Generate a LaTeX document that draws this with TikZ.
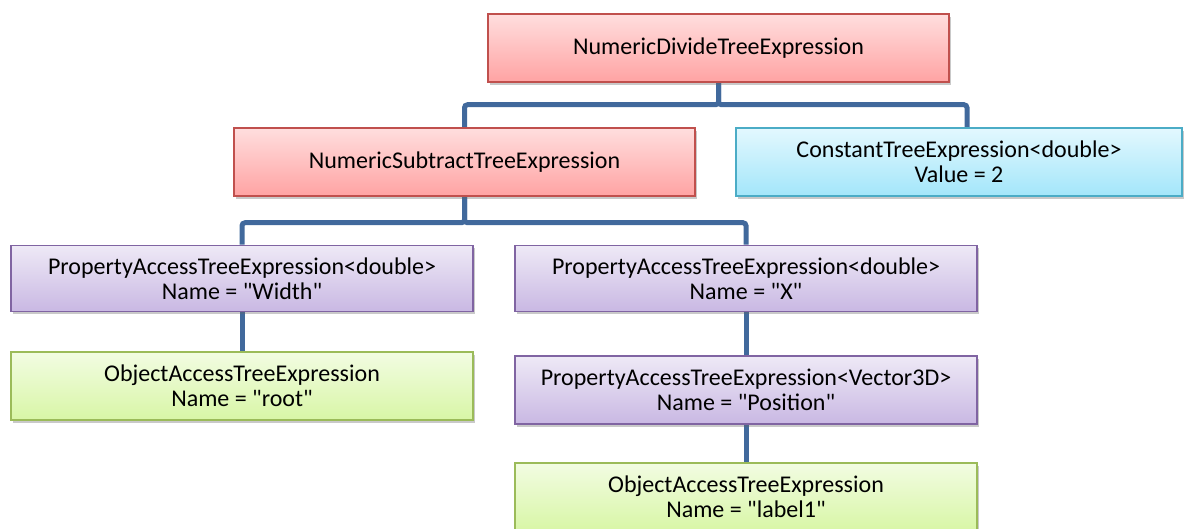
\documentclass[tikz,border=0pt]{standalone}
\usepackage{fontspec}
\setmainfont{Carlito}[Ligatures=TeXOff]
\usetikzlibrary{shadows,backgrounds}
\definecolor{connc}{HTML}{41699C}
\definecolor{redtop}{HTML}{FFDEDE}
\definecolor{redbot}{HTML}{FFA3A3}
\definecolor{redln}{HTML}{C0504D}
\definecolor{bluetop}{HTML}{E3F8FE}
\definecolor{bluebot}{HTML}{A3E6FA}
\definecolor{blueln}{HTML}{4BACC6}
\definecolor{purtop}{HTML}{EEE9F6}
\definecolor{purbot}{HTML}{C9B8E3}
\definecolor{purln}{HTML}{8064A2}
\definecolor{grntop}{HTML}{F2FCE2}
\definecolor{grnbot}{HTML}{D8F6A6}
\definecolor{grnln}{HTML}{9BBB59}
\tikzset{
  box/.style={rectangle, draw, line width=1.5pt, minimum width=461pt, minimum height=67pt,
    inner sep=0pt, align=center, font=\fontsize{24}{25}\selectfont,
    drop shadow={shadow xshift=2pt, shadow yshift=-3pt, opacity=0.35, fill=black!60}},
  redbox/.style={box, draw=redln, top color=redtop, bottom color=redbot},
  bluebox/.style={box, draw=blueln, top color=bluetop, bottom color=bluebot},
  purbox/.style={box, draw=purln, top color=purtop, bottom color=purbot},
  grnbox/.style={box, draw=grnln, top color=grntop, bottom color=grnbot},
  conn/.style={draw=connc, line width=5pt, rounded corners=3pt}
}
\begin{document}
\begin{tikzpicture}[x=1pt,y=1pt]
\useasboundingbox (0,0) rectangle (1189,-529);

\node[redbox, minimum height=68pt] (root) at (718.5,-48) {NumericDivideTreeExpression};
\node[redbox, minimum height=68pt] (sub) at (464.5,-162) {NumericSubtractTreeExpression};
\node[bluebox, minimum width=446pt, minimum height=68pt] (const) at (959,-162) {ConstantTreeExpression<double>\\Value = 2};
\node[purbox, minimum width=462pt, minimum height=66pt] (pw) at (242,-278.5) {PropertyAccessTreeExpression<double>\\Name = "Width"};
\node[purbox, minimum width=462pt, minimum height=66pt] (px) at (746,-278.5) {PropertyAccessTreeExpression<double>\\Name = "X"};
\node[grnbox, minimum width=462pt, minimum height=68pt] (or) at (242,-386) {ObjectAccessTreeExpression\\Name = "root"};
\node[purbox, minimum width=462pt, minimum height=68pt] (pv) at (746,-390) {PropertyAccessTreeExpression<Vector3D>\\Name = "Position"};
\node[grnbox, minimum width=462pt, minimum height=68pt] (ol) at (746,-497) {ObjectAccessTreeExpression\\Name = "label1"};

\begin{scope}[on background layer]
\fill[white] (0,0) rectangle (1189,-529);
\draw[conn] (root.south) -- ++(0,-22) -| (sub.north);
\draw[conn] (root.south) -- ++(0,-22) -| ([xshift=8pt]const.north);
\draw[conn] (sub.south) -- ++(0,-26) -| (pw.north);
\draw[conn] (sub.south) -- ++(0,-26) -| (px.north);
\draw[conn] (pw.south) -- (or.north);
\draw[conn] (px.south) -- (pv.north);
\draw[conn] (pv.south) -- (ol.north);
\end{scope}
\end{tikzpicture}
\end{document}
